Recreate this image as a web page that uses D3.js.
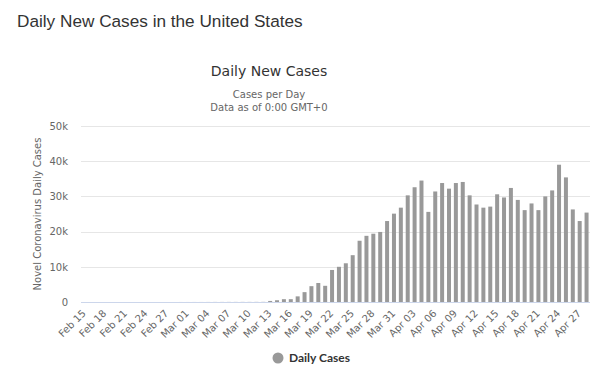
<!DOCTYPE html>
<html>
<head>
<meta charset="utf-8">
<script src="https://cdn.jsdelivr.net/npm/d3@7"></script>
<style>
  body { margin: 0; background: #fff; }
  svg { display: block; }
</style>
</head>
<body>
<div id="chart"></div>
<script>
// Dates Feb 15 - Apr 28 (2020)
const dates = [
  "Feb 15","Feb 16","Feb 17","Feb 18","Feb 19","Feb 20","Feb 21","Feb 22","Feb 23","Feb 24",
  "Feb 25","Feb 26","Feb 27","Feb 28","Feb 29",
  "Mar 01","Mar 02","Mar 03","Mar 04","Mar 05","Mar 06","Mar 07","Mar 08","Mar 09","Mar 10",
  "Mar 11","Mar 12","Mar 13","Mar 14","Mar 15","Mar 16","Mar 17","Mar 18","Mar 19","Mar 20",
  "Mar 21","Mar 22","Mar 23","Mar 24","Mar 25","Mar 26","Mar 27","Mar 28","Mar 29","Mar 30",
  "Mar 31",
  "Apr 01","Apr 02","Apr 03","Apr 04","Apr 05","Apr 06","Apr 07","Apr 08","Apr 09","Apr 10",
  "Apr 11","Apr 12","Apr 13","Apr 14","Apr 15","Apr 16","Apr 17","Apr 18","Apr 19","Apr 20",
  "Apr 21","Apr 22","Apr 23","Apr 24","Apr 25","Apr 26","Apr 27","Apr 28"
];
const dailyCases = [
  0, 0, 0, 0, 0, 0, 0, 0, 0, 0,
  0, 0, 0, 0, 5,
  5, 10, 10, 15, 20, 20, 25, 25, 30, 30,
  35, 40, 300, 500, 800, 800, 1600, 2800, 4500, 5400,
  4600, 9100, 10000, 11000, 13300, 17400, 18800, 19400, 19900, 23000,
  25100,
  26800, 30300, 32600, 34500, 25600, 31400, 33800, 32200, 33800, 34100,
  30300, 27700, 26800, 27100, 30600, 29700, 32400, 29000, 26100, 28000,
  26100, 30000, 31700, 39000, 35400, 26300, 23000, 25400
];
const yTicks = [0, 10000, 20000, 30000, 40000, 50000];
const tickDates = dates.filter((d, i) => i % 3 === 0);

const W = 600, H = 376;
const margin = { top: 126, right: 10, bottom: 74, left: 81 };
const width = 590 - margin.left;
const height = 302 - margin.top;

const svg = d3.select("#chart").append("svg")
    .attr("width", W)
    .attr("height", H);

// page heading
svg.append("text")
    .attr("x", 17)
    .attr("y", 27)
    .attr("font-family", "Liberation Sans, Arial, sans-serif")
    .attr("font-size", "17.2px")
    .attr("fill", "#333")
    .text("Daily New Cases in the United States");

// chart titles
svg.append("text")
    .attr("x", 269)
    .attr("y", 76)
    .attr("text-anchor", "middle")
    .attr("font-family", "DejaVu Sans, sans-serif")
    .attr("font-size", "14px")
    .attr("fill", "#333")
    .text("Daily New Cases");

svg.append("text")
    .attr("x", 269)
    .attr("y", 98)
    .attr("text-anchor", "middle")
    .attr("font-family", "DejaVu Sans, sans-serif")
    .attr("font-size", "10px")
    .attr("fill", "#666")
    .text("Cases per Day");

svg.append("text")
    .attr("x", 269)
    .attr("y", 111)
    .attr("text-anchor", "middle")
    .attr("font-family", "DejaVu Sans, sans-serif")
    .attr("font-size", "10px")
    .attr("fill", "#666")
    .text("Data as of 0:00 GMT+0");

const g = svg.append("g")
    .attr("transform", `translate(${margin.left},${margin.top})`);

// Scales
const x = d3.scaleBand().domain(dates).range([0, width]).paddingInner(0.42).paddingOuter(0.21);
const y = d3.scaleLinear().domain([0, 50000]).range([height, 0]);

// Grid
g.append("g")
    .selectAll("line")
    .data(yTicks.slice(1))
    .enter()
    .append("line")
    .attr("x1", 0)
    .attr("x2", width)
    .attr("y1", d => Math.round(y(d)) + 0.5)
    .attr("y2", d => Math.round(y(d)) + 0.5)
    .attr("stroke", "#e6e6e6");

// Y axis labels
const yAxis = d3.axisLeft(y)
    .tickValues(yTicks)
    .tickSize(0)
    .tickPadding(13)
    .tickFormat(d => d === 0 ? "0" : (d / 1000) + "k");

g.append("g")
    .call(yAxis)
    .call(s => s.select(".domain").remove())
    .selectAll("text")
    .attr("font-family", "DejaVu Sans, sans-serif")
    .attr("font-size", "10px")
    .attr("fill", "#666");

// Y axis title
svg.append("text")
    .attr("transform", "translate(41,214) rotate(-90)")
    .attr("text-anchor", "middle")
    .attr("font-family", "DejaVu Sans, sans-serif")
    .attr("font-size", "10px")
    .attr("fill", "#666")
    .text("Novel Coronavirus Daily Cases");

// Bars
g.selectAll(".bar")
    .data(dates.map((d, i) => ({ date: d, value: dailyCases[i] })))
    .enter()
    .append("rect")
    .attr("class", "bar")
    .attr("x", d => x(d.date))
    .attr("y", d => y(d.value))
    .attr("width", x.bandwidth())
    .attr("height", d => height - y(d.value))
    .attr("fill", "#999");

// X axis
const xAxis = d3.axisBottom(x)
    .tickValues(tickDates)
    .tickSize(0)
    .tickPadding(0);

const xg = g.append("g")
    .attr("transform", `translate(0,${height})`)
    .call(xAxis);

xg.select(".domain")
    .attr("stroke", "#ccd6eb")
    .attr("d", `M0,0.5H${width}`);

xg.selectAll("text")
    .attr("font-family", "DejaVu Sans, sans-serif")
    .attr("font-size", "10px")
    .attr("fill", "#666")
    .attr("text-anchor", "end")
    .attr("dy", null)
    .attr("y", 0)
    .attr("transform", "translate(2,12) rotate(-45)");

// Legend
svg.append("circle")
    .attr("cx", 278)
    .attr("cy", 358)
    .attr("r", 5.5)
    .attr("fill", "#999");

svg.append("text")
    .attr("x", 289)
    .attr("y", 362)
    .attr("font-family", "Lato, DejaVu Sans, sans-serif")
    .attr("font-size", "12px")
    .attr("font-weight", "bold")
    .attr("fill", "#333")
    .text("Daily Cases");
</script>
</body>
</html>
